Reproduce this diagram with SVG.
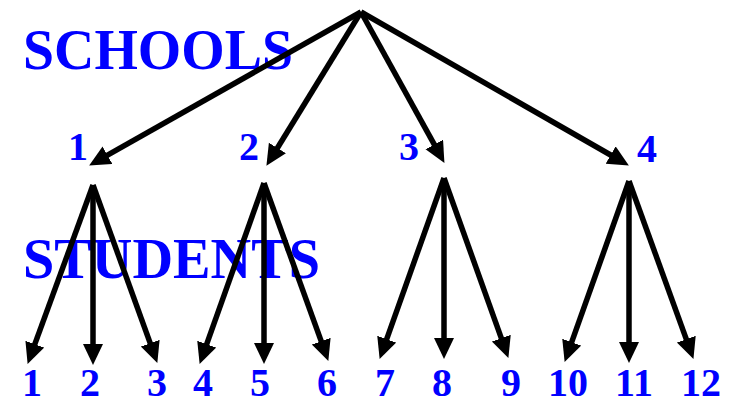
<svg xmlns="http://www.w3.org/2000/svg" width="738" height="399" viewBox="0 0 738 399">
<style>
.t{font-family:"Liberation Serif","Times New Roman",serif;font-weight:bold;fill:#0000FF}
.big{font-size:57px}
.n{font-size:40px;text-anchor:middle}
.c line{stroke:#000;stroke-width:5.5;marker-end:url(#ah)}
</style>
<defs>
<marker id="ah" markerUnits="userSpaceOnUse" markerWidth="24" markerHeight="22" refX="5" refY="10" orient="auto">
<path d="M0,0 L21,10 L0,20 z" fill="#000"/>
</marker>
</defs>
<rect width="738" height="399" fill="#fff"/>
<g id="titles">
<text class="t big" x="23" y="69" textLength="270" lengthAdjust="spacingAndGlyphs">SCHOOLS</text>
<text class="t big" x="23" y="278" textLength="297" lengthAdjust="spacingAndGlyphs">STUDENTS</text>
</g>
<g id="schools">
<g id="school1"><text class="t n" x="78" y="160">1</text></g>
<g id="school2"><text class="t n" x="249" y="160">2</text></g>
<g id="school3"><text class="t n" x="409" y="160">3</text></g>
<g id="school4"><text class="t n" x="647" y="162">4</text></g>
</g>
<g id="students">
<g id="s1"><text class="t n" x="32" y="396">1</text></g>
<g id="s2"><text class="t n" x="90" y="396">2</text></g>
<g id="s3"><text class="t n" x="157" y="396">3</text></g>
<g id="s4"><text class="t n" x="203" y="396">4</text></g>
<g id="s5"><text class="t n" x="260" y="396">5</text></g>
<g id="s6"><text class="t n" x="327" y="396">6</text></g>
<g id="s7"><text class="t n" x="385" y="396">7</text></g>
<g id="s8"><text class="t n" x="442" y="396">8</text></g>
<g id="s9"><text class="t n" x="511" y="396">9</text></g>
<g id="s10"><text class="t n" x="568" y="396">10</text></g>
<g id="s11"><text class="t n" x="634" y="396">11</text></g>
<g id="s12"><text class="t n" x="701" y="396">12</text></g>
</g>
<g id="connectors" class="c">
<line x1="361" y1="12" x2="103.1" y2="157.6"/>
<line x1="361" y1="12" x2="274.8" y2="152.2"/>
<line x1="361" y1="12" x2="436.7" y2="148.9"/>
<line x1="361" y1="12" x2="615" y2="157.5"/>
<line x1="93" y1="185" x2="33.1" y2="348.9"/>
<line x1="93" y1="185" x2="93" y2="349"/>
<line x1="93" y1="185" x2="151.9" y2="347.9"/>
<line x1="264" y1="183" x2="205" y2="348.9"/>
<line x1="264" y1="183" x2="264" y2="348"/>
<line x1="264" y1="183" x2="322.9" y2="345.9"/>
<line x1="444" y1="178" x2="385" y2="343.9"/>
<line x1="444" y1="178" x2="444" y2="343"/>
<line x1="444" y1="178" x2="503" y2="342.9"/>
<line x1="629" y1="181" x2="570" y2="346.9"/>
<line x1="629" y1="181" x2="629" y2="347"/>
<line x1="629" y1="181" x2="688" y2="343.9"/>
</g>
</svg>
